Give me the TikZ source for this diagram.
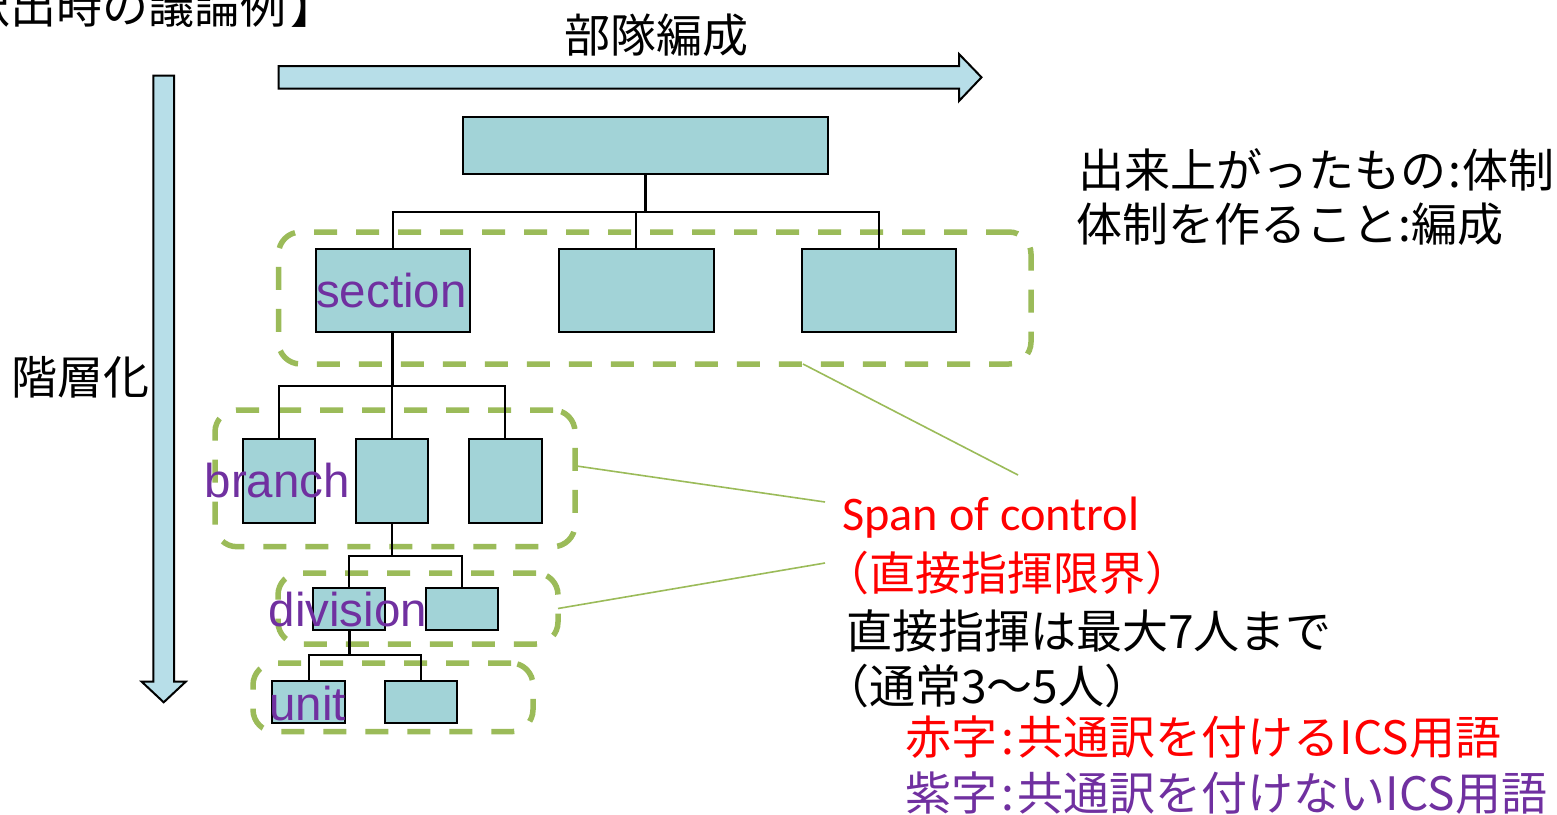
\documentclass[tikz,border=0pt]{standalone}
\usepackage{fontspec}
\setmainfont{Liberation Sans}
\newfontfamily\jpfont{Noto Sans CJK JP}
\newfontfamily\calfont{Carlito}
\newfontfamily\arfont{Liberation Sans}

\definecolor{boxfill}{RGB}{162,211,215}
\definecolor{arrowfill}{RGB}{183,222,232}
\definecolor{grpgreen}{RGB}{155,187,89}
\definecolor{termpurple}{RGB}{112,48,160}

\tikzset{
  orgbox/.style={draw=black, line width=2pt, fill=boxfill, inner sep=0pt, outer sep=0pt},
  grp/.style={draw=grpgreen, line width=5.5pt, dash pattern=on 23pt off 19pt,
              rounded corners=22pt, inner sep=0pt, outer sep=0pt},
  link/.style={draw=black, line width=2pt},
  droplink/.style={draw=black, line width=2.8pt},
  callout/.style={draw=grpgreen, line width=1.6pt},
  bigarrow/.style={draw=black, line width=2pt, fill=arrowfill, line join=miter},
  term/.style={text=termpurple, font=\arfont\fontsize{47.5}{47.5}\selectfont,
               inner sep=0pt, anchor=base west},
  jtext/.style={font=\jpfont\fontsize{46}{46}\selectfont, inner sep=0pt, anchor=west},
}

\begin{document}
\begin{tikzpicture}[x=1pt, y=-1pt]
  \path[use as bounding box, fill=white] (0,0) rectangle (1557,814);

  % title, partly outside the page
  \node[jtext] (title) at (-82,6) {【訳出時の議論例\hspace{4pt}】};

  % horizontal arrow and its caption
  \node[jtext, anchor=center] (hdr) at (656.5,35) {部隊編成};
  \draw[bigarrow] (278.5,66) -- (959,66) -- (959,54) -- (981.5,77.3)
        -- (959,101) -- (959,88.7) -- (278.5,88.7) -- cycle;

  % vertical arrow and its caption
  \draw[bigarrow] (153.3,75.7) -- (174,75.7) -- (174,681.7) -- (185.7,681.7)
        -- (163.7,702.3) -- (141.7,681.7) -- (153.3,681.7) -- cycle;
  \node[jtext, anchor=center] (hier) at (81,377) {階層化};

  % dashed level groups
  \node[grp, minimum width=752.5, minimum height=132] (gsec) at (654.75,298) {};
  \node[grp, minimum width=360, minimum height=136.7] (gbr) at (395,478.35) {};
  \node[grp, minimum width=280, minimum height=71] (gdiv) at (418,608.5) {};
  \node[grp, minimum width=280, minimum height=68.7] (gunit) at (393,697.35) {};

  % organisation boxes
  \node[orgbox, minimum width=365.5, minimum height=57] (top) at (645.25,145.8) {};

  \node[orgbox, minimum width=154.5, minimum height=83.6] (s1) at (392.75,290.5) {};
  \node[orgbox, minimum width=155, minimum height=83.6] (s2) at (636,290.5) {};
  \node[orgbox, minimum width=154.5, minimum height=83.6] (s3) at (878.75,290.5) {};

  \node[orgbox, minimum width=72.6, minimum height=83.4] (b1) at (279,481) {};
  \node[orgbox, minimum width=72.6, minimum height=83.4] (b2) at (392,481) {};
  \node[orgbox, minimum width=73, minimum height=83.4] (b3) at (505.2,481) {};

  \node[orgbox, minimum width=72, minimum height=41.7] (d1) at (349.3,609.2) {};
  \node[orgbox, minimum width=72.3, minimum height=41.7] (d2) at (462.2,609.2) {};

  \node[orgbox, minimum width=72.7, minimum height=41.4] (u1) at (308.7,702) {};
  \node[orgbox, minimum width=72, minimum height=41.4] (u2) at (421.3,702) {};

  % tree connectors
  \path (top.south) ++(0,38) coordinate (j0);
  \draw[droplink] (top.south) -- (j0);
  \draw[link] (s1.north) |- (j0) -| (s3.north);
  \draw[link] (s2.north) -- (s2.north |- j0);

  \path (s1.south) ++(0,53.4) coordinate (j1);
  \draw[droplink] (s1.south) -- (j1);
  \draw[link] (b1.north) |- (j1) -| (b3.north);
  \draw[link] (b2.north) -- (b2.north |- j1);

  \path (b2.south) ++(0,33) coordinate (j2);
  \draw[droplink] (b2.south) -- (j2);
  \draw[link] (d1.north) |- (j2) -| (d2.north);

  \path (d1.south) ++(0,25.3) coordinate (j3);
  \draw[droplink] (d1.south) -- (j3);
  \draw[link] (u1.north) |- (j3) -| (u2.north);

  % level names
  \node[term] (tsec) at (316,307.7) {section};
  \node[term] (tbr) at (204.5,497.7) {branch};
  \node[term] (tdiv) at (268.5,626.7) {division};
  \node[term] (tunit) at (269,720) {unit};

  % notes on the right
  \node[jtext] (n1) at (1078,170) {出来上がったもの\hspace{2pt}:\hspace{2pt}体制};
  \node[jtext] (n2) at (1076,224) {体制を作ること:編成};

  % span of control explanation
  \node[font=\calfont\fontsize{48.3}{48.3}\selectfont, text=red, anchor=base west,
        inner sep=0pt] (span) at (842,530) {Span of control};
  \node[jtext, text=red] (spanjp) at (823,573) {（直接指揮限界）};
  \node[jtext] (lim) at (846,631) {直接指揮は最大7人まで};
  \node[jtext] (usual) at (823,686) {（通常3〜5人）};
  \node[jtext, text=red] (leg1) at (905,737)
       {赤字\hspace{4pt}:\hspace{4pt}共通訳を付けるICS用語};
  \node[jtext, text=termpurple] (leg2) at (905,793)
       {紫字\hspace{4pt}:\hspace{4pt}共通訳を付けないICS用語};

  % callout lines
  \coordinate (c1) at (1018,475);
  \coordinate (c2) at (825,502);
  \coordinate (c3) at (825,563);
  \draw[callout] (gsec.-24.8) -- (c1);
  \draw[callout] (gbr.4.4) -- (c2);
  \draw[callout] (gdiv.east) -- (c3);
\end{tikzpicture}
\end{document}
